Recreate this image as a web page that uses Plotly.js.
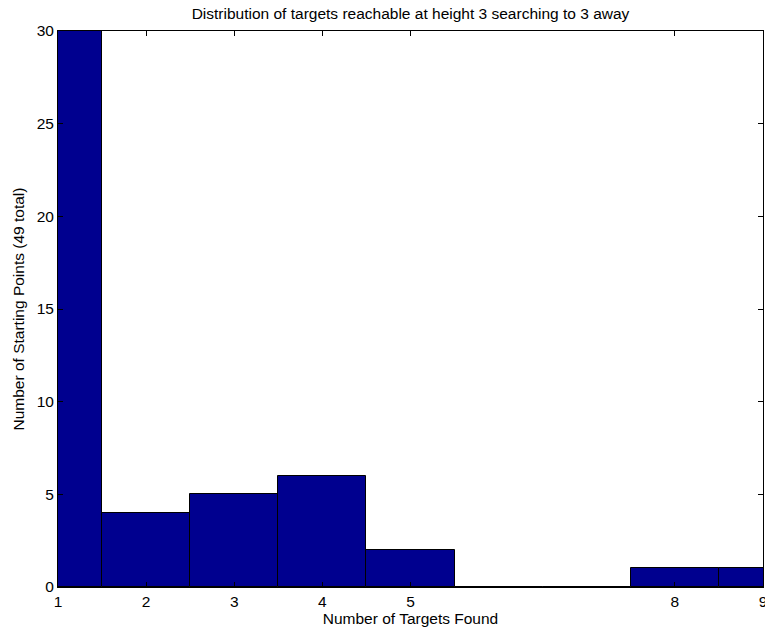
<!DOCTYPE html>
<html><head><meta charset="utf-8">
<script src="https://cdn.plot.ly/plotly-3.0.1.min.js"></script>
<style>body{margin:0;padding:0;background:#fff}</style>
</head><body>
<div id="chart" style="width:765px;height:628px"></div>
<script>
const targetsFound = [1, 2, 3, 4, 5, 6, 7, 8, 9];
const startingPoints = [30, 4, 5, 6, 2, 0, 0, 1, 1];
const xTickVals = [1, 2, 3, 4, 5, 8, 9];
const yTickVals = [0, 5, 10, 15, 20, 25, 30];

const fam = 'Liberation Sans, Arial, Helvetica, sans-serif';
const fs = 15.5;
const txt = {family: fam, size: fs, color: '#000'};
Plotly.newPlot('chart', [{
  type: 'bar',
  x: targetsFound,
  y: startingPoints,
  width: 1,
  marker: {color: 'rgb(0,0,143)', line: {color: '#000', width: 1}},
  hoverinfo: 'x+y'
}], {
  width: 765, height: 628,
  margin: {l: 58, r: 2, t: 31, b: 41},
  paper_bgcolor: '#fff', plot_bgcolor: '#fff',
  font: txt,
  showlegend: false,
  bargap: 0,
  title: {text: 'Distribution of targets reachable at height 3 searching to 3 away', font: txt, xref: 'paper', x: 0.5, xanchor: 'center', yref: 'container', y: 0.979, yanchor: 'middle'},
  xaxis: {
    range: [1, 9], tickvals: xTickVals, ticktext: xTickVals.map(String),
    ticks: 'inside', ticklen: 5, tickcolor: '#000', mirror: 'ticks',
    showline: true, linecolor: '#000', linewidth: 1, showgrid: false, zeroline: false,
    ticklabeloverflow: 'allow', tickfont: txt,
    title: {text: 'Number of Targets Found', font: txt, standoff: 0}
  },
  yaxis: {
    range: [0, 30], tickvals: yTickVals,
    ticks: 'inside', ticklen: 5, tickcolor: '#000', mirror: 'ticks',
    showline: true, linecolor: '#000', linewidth: 1, showgrid: false, zeroline: false,
    ticklabeloverflow: 'allow', tickfont: txt,
    title: {text: 'Number of Starting Points (49 total)', font: txt, standoff: 8}
  }
}, {displayModeBar: false});
</script>
</body></html>
